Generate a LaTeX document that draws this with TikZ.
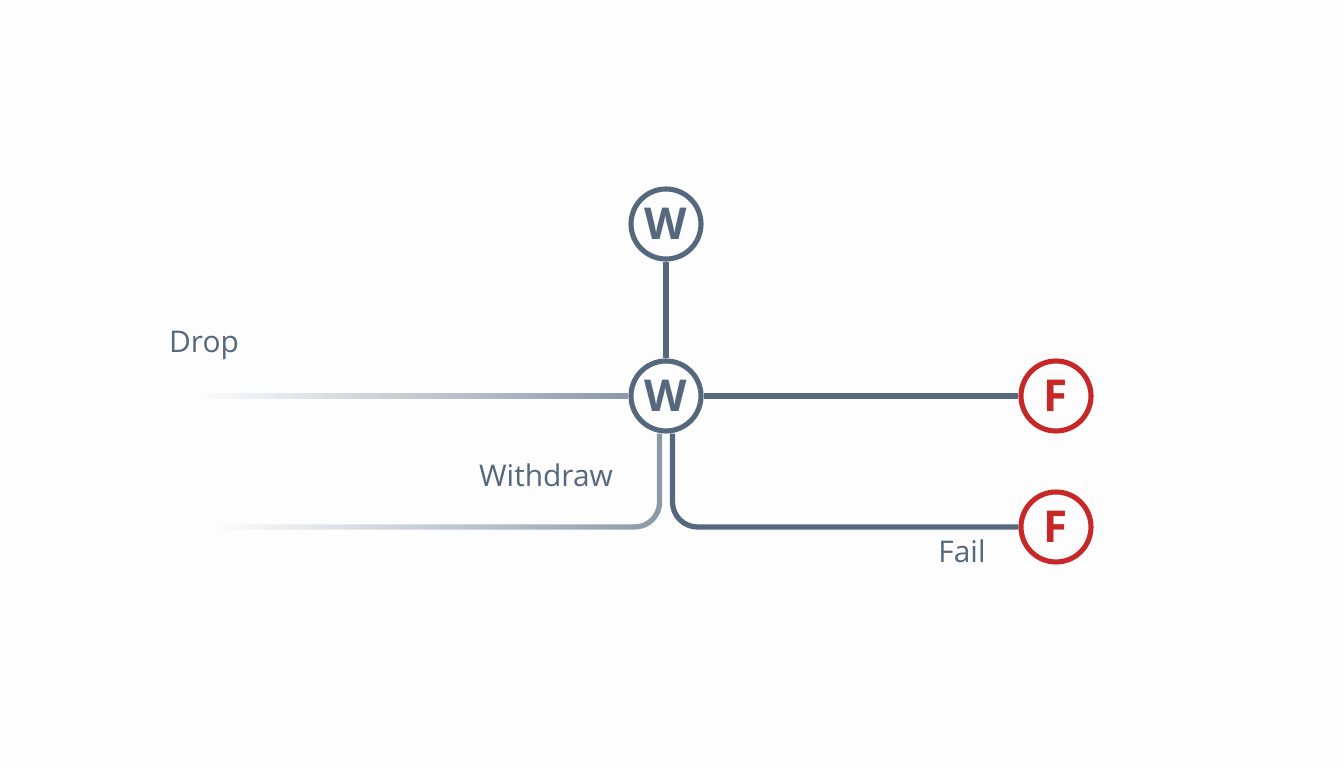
\documentclass[tikz,border=0pt]{standalone}
\usepackage{fontspec}
\setmainfont{Open Sans}
\usetikzlibrary{positioning,fadings}
\definecolor{slate}{HTML}{56687D}
\definecolor{lightslate}{HTML}{8C98A7}
\definecolor{failred}{HTML}{C62828}
\definecolor{paper}{HTML}{FDFDFD}
\tikzset{
    state/.style={circle, draw=slate, line width=1.45pt, minimum size=0.70cm, inner sep=0pt,
        text=slate, font=\bfseries\fontsize{12.5}{12.5}\selectfont},
    failstate/.style={state, draw=failred, text=failred},
    link/.style={draw=slate, line width=1.5pt},
    fadelink/.style={draw=lightslate, line width=1.5pt, path fading=west},
    tag/.style={text=slate, font=\fontsize{8.5}{8.5}\selectfont},
}

\begin{document}
\begin{tikzpicture}
    % Background and frame
    \fill[paper] (0,0) rectangle (13.44,7.68);
    \useasboundingbox (0,0) rectangle (13.44,7.68);

    % States
    \node[state] (top) at (6.66,5.44) {W};
    \node[state] (mid) at (6.66,3.72) {W};
    \node[failstate] (failA) at (10.56,3.72) {F};
    \node[failstate] (failB) at (10.56,2.41) {F};

    % Free ends of the faded branches
    \coordinate (dropend) at (2.0,3.72);
    \coordinate (wdend) at (2.2,2.41);

    % Connectors
    \draw[link] (top) -- (mid);
    \draw[link] (mid) -- (failA);
    \draw[fadelink] (dropend) -- (mid.west);
    \draw[fadelink, rounded corners=0.25cm] ([xshift=-0.065cm]mid.south) |- (wdend);
    \draw[link, rounded corners=0.25cm] ([xshift=0.065cm]mid.south) |- (failB.west);

    % Labels
    \node[tag] (drop) at (2.04,4.23) {Drop};
    \node[tag] (withdraw) at (5.46,2.93) {Withdraw};
    \node[tag] (fail) at (9.62,2.17) {Fail};
\end{tikzpicture}
\end{document}
